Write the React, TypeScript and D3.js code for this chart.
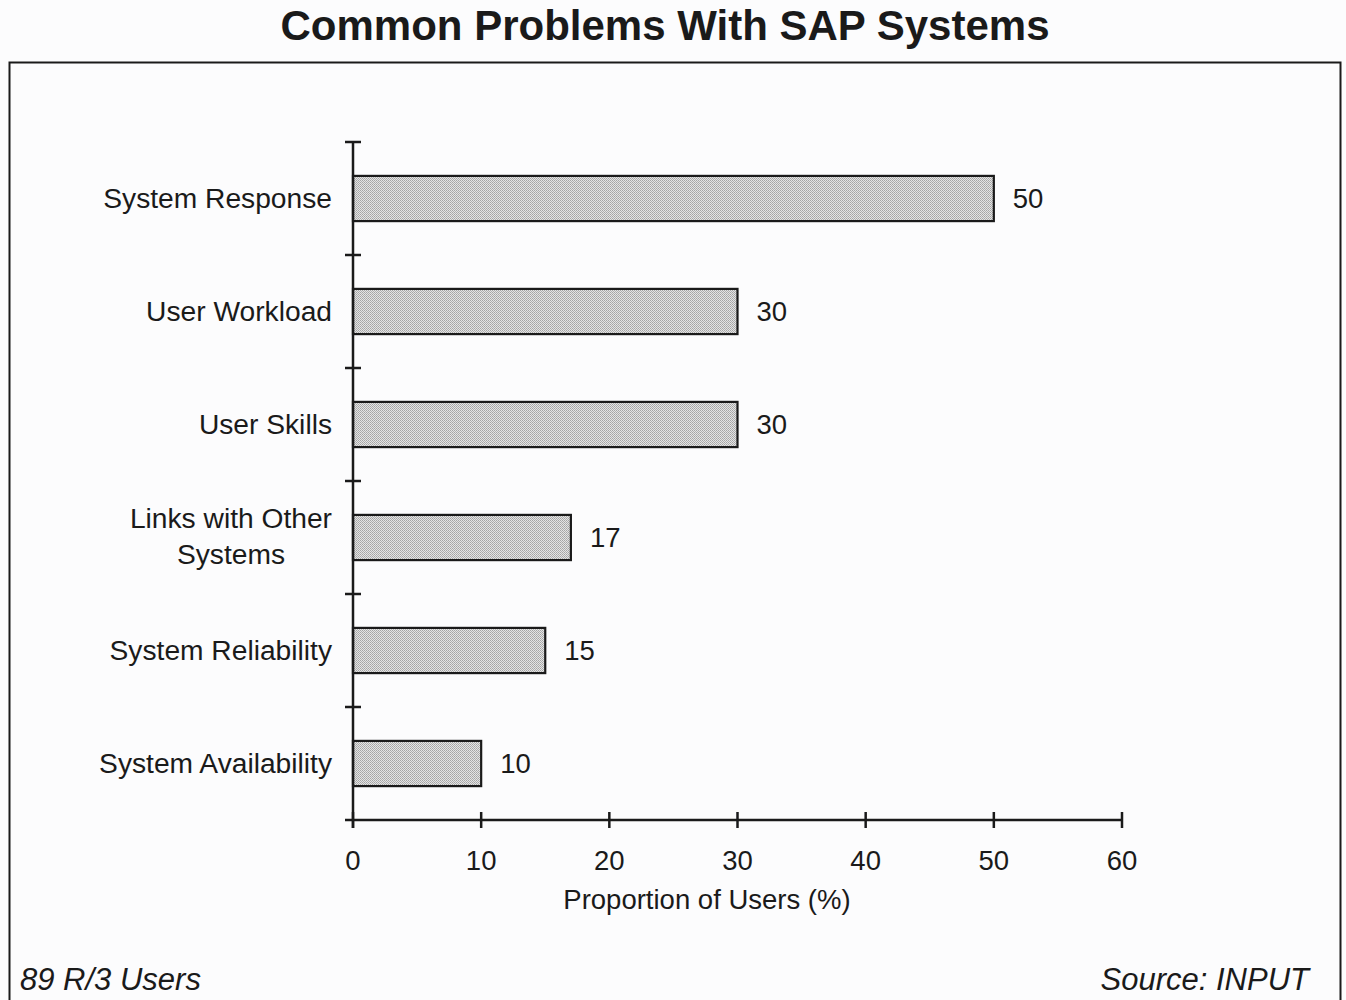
import React, { useEffect, useRef } from "react";
import * as d3 from "d3";

const categories: string[][] = [
  ["System Response"],
  ["User Workload"],
  ["User Skills"],
  ["Links with Other", "Systems"],
  ["System Reliability"],
  ["System Availability"],
];
const values: number[] = [50, 30, 30, 17, 15, 10];
const xTicks: number[] = [0, 10, 20, 30, 40, 50, 60];
const title = "Common Problems With SAP Systems";
const xTitle = "Proportion of Users (%)";
const footLeft = "89 R/3 Users";
const footRight = "Source: INPUT";

const W = 1346;
const H = 1000;
const FONT = "'Liberation Sans', Arial, Helvetica, sans-serif";
const FS = 27.5;
const FS_CAT = 28.2;

export default function App() {
  const ref = useRef<SVGSVGElement | null>(null);

  useEffect(() => {
    const svg = d3.select(ref.current);
    svg.selectAll("*").remove();

    const defs = svg.append("defs");
    const pat = defs
      .append("pattern")
      .attr("id", "stip")
      .attr("width", 2)
      .attr("height", 2)
      .attr("patternUnits", "userSpaceOnUse");
    pat.append("rect").attr("width", 2).attr("height", 2).attr("fill", "#e4e4e4");
    pat.append("rect").attr("x", 0).attr("y", 0).attr("width", 1).attr("height", 1).attr("fill", "#a4a4a4");
    pat.append("rect").attr("x", 1).attr("y", 1).attr("width", 1).attr("height", 1).attr("fill", "#b0b0b0");

    svg.append("rect").attr("width", W).attr("height", H).attr("fill", "#fcfcfd");

    // frame
    svg
      .append("path")
      .attr("d", `M9.5,${H + 2} L9.5,62.5 L1340.5,62.5 L1340.5,${H + 2}`)
      .attr("fill", "none")
      .attr("stroke", "#1a1a1a")
      .attr("stroke-width", 2);

    svg
      .append("text")
      .attr("x", 665)
      .attr("y", 40)
      .attr("text-anchor", "middle")
      .attr("font-family", FONT)
      .attr("font-weight", "bold")
      .attr("font-size", 42)
      .attr("fill", "#1a1a1a")
      .text(title);

    const x = d3.scaleLinear().domain([0, 60]).range([353, 1122]);
    const y = d3
      .scaleBand<number>()
      .domain(d3.range(categories.length))
      .range([142, 820])
      .paddingInner(0.6)
      .paddingOuter(0.3);

    const g = svg.append("g");
    const ink = "#1a1a1a";

    // bars
    g.selectAll("rect.bar")
      .data(values)
      .join("rect")
      .attr("class", "bar")
      .attr("x", x(0))
      .attr("y", (_, i) => y(i)!)
      .attr("width", (d) => x(d) - x(0))
      .attr("height", y.bandwidth())
      .attr("fill", "url(#stip)")
      .attr("stroke", ink)
      .attr("stroke-width", 2.2);

    // value labels
    g.selectAll("text.val")
      .data(values)
      .join("text")
      .attr("class", "val")
      .attr("x", (d) => x(d) + 19)
      .attr("y", (_, i) => y(i)! + y.bandwidth() / 2 + 9)
      .attr("font-family", FONT)
      .attr("font-size", FS)
      .attr("fill", ink)
      .text((d) => String(d));

    // y axis line
    const step = y.step();
    const top = 142;
    const bottom = 820;
    g.append("line")
      .attr("x1", x(0)).attr("x2", x(0))
      .attr("y1", top).attr("y2", bottom + 8)
      .attr("stroke", ink).attr("stroke-width", 2.5);
    const yTickPos = d3.range(categories.length).map((i) => top + i * step);
    g.selectAll("line.yt")
      .data(yTickPos)
      .join("line")
      .attr("class", "yt")
      .attr("x1", x(0) - 8).attr("x2", x(0) + 8)
      .attr("y1", (d) => d).attr("y2", (d) => d)
      .attr("stroke", ink).attr("stroke-width", 2.5);

    // x axis
    g.append("line")
      .attr("x1", x(0) - 8).attr("x2", x(60))
      .attr("y1", bottom).attr("y2", bottom)
      .attr("stroke", ink).attr("stroke-width", 2.5);
    g.selectAll("line.xt")
      .data(xTicks)
      .join("line")
      .attr("class", "xt")
      .attr("x1", (d) => x(d)).attr("x2", (d) => x(d))
      .attr("y1", bottom - 8).attr("y2", bottom + 8)
      .attr("stroke", ink).attr("stroke-width", 2.5);
    g.selectAll("text.xl")
      .data(xTicks)
      .join("text")
      .attr("class", "xl")
      .attr("x", (d) => x(d))
      .attr("y", 870)
      .attr("text-anchor", "middle")
      .attr("font-family", FONT)
      .attr("font-size", FS)
      .attr("fill", ink)
      .text((d) => String(d));

    g.append("text")
      .attr("x", 707)
      .attr("y", 909)
      .attr("text-anchor", "middle")
      .attr("font-family", FONT)
      .attr("font-size", FS)
      .attr("fill", ink)
      .text(xTitle);

    // category labels
    const labelRight = 332;
    categories.forEach((lines, i) => {
      const cy = y(i)! + y.bandwidth() / 2;
      const lh = 36;
      if (lines.length === 1) {
        g.append("text")
          .attr("x", labelRight)
          .attr("y", cy + 9)
          .attr("text-anchor", "end")
          .attr("font-family", FONT)
          .attr("font-size", FS_CAT)
          .attr("fill", ink)
          .text(lines[0]);
      } else {
        const t = g
          .append("text")
          .attr("font-family", FONT)
          .attr("font-size", FS_CAT)
          .attr("fill", ink)
          .attr("text-anchor", "middle");
        const probe = g
          .append("text")
          .attr("font-family", FONT)
          .attr("font-size", FS_CAT)
          .text(lines[0]);
        const wMax = (probe.node() as SVGTextElement).getComputedTextLength();
        probe.remove();
        const cx = labelRight - wMax / 2;
        const y0 = cy - ((lines.length - 1) * lh) / 2 + 8;
        lines.forEach((ln, k) => {
          t.append("tspan").attr("x", cx).attr("y", y0 + k * lh).text(ln);
        });
      }
    });

    // footers
    svg.append("text")
      .attr("x", 20).attr("y", 990)
      .attr("font-family", FONT).attr("font-style", "italic")
      .attr("font-size", 31).attr("fill", ink)
      .text(footLeft);
    svg.append("text")
      .attr("x", 1309).attr("y", 990)
      .attr("text-anchor", "end")
      .attr("font-family", FONT).attr("font-style", "italic")
      .attr("font-size", 31).attr("fill", ink)
      .text(footRight);
  }, []);

  return (
    <svg
      ref={ref}
      width={W}
      height={H}
      style={{ position: "absolute", left: 0, top: 0, display: "block" }}
    />
  );
}
